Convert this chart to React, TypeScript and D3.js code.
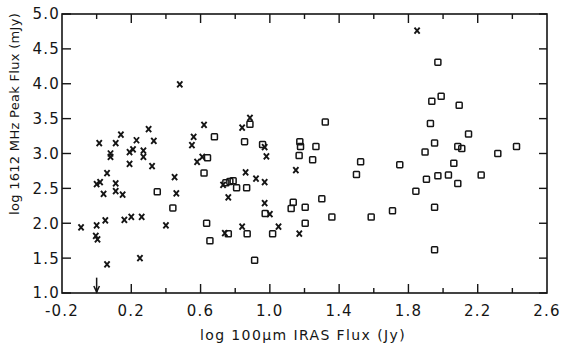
import React from "react";
import * as d3 from "d3";

const crossX = [0.48,0.62,0.30,0.14,0.23,0.33,0.015,0.11,0.56,0.55,0.08,0.08,0.19,0.21,0.27,0.27,0.19,0.32,0.61,0.58,0.06,0.0,0.02,0.11,0.11,0.04,0.15,0.45,0.46,0.73,0.76,-0.09,0.0,0.05,0.16,0.2,0.26,0.4,-0.005,0.005,0.74,0.06,0.25,0.885,0.84,0.97,0.98,1.15,0.86,0.92,0.97,0.97,1.0,0.84,1.05,1.17,1.85];
const crossY = [3.99,3.41,3.35,3.27,3.19,3.18,3.15,3.15,3.24,3.12,3.0,2.95,3.02,3.06,3.04,2.95,2.85,2.82,2.95,2.88,2.72,2.56,2.59,2.57,2.46,2.42,2.41,2.66,2.43,2.55,2.37,1.94,1.97,2.04,2.05,2.09,2.09,1.97,1.82,1.77,1.86,1.41,1.5,3.51,3.37,3.09,2.96,2.76,2.73,2.64,2.59,2.29,2.13,1.95,1.95,1.85,4.76];

const squareX = [0.68,0.64,0.62,0.35,0.44,0.635,0.654,0.746,0.769,0.788,0.76,0.885,1.32,0.854,0.958,1.173,1.177,1.266,1.169,1.247,1.524,1.5,0.808,0.866,1.135,1.123,1.204,1.3,0.973,1.358,1.585,1.204,0.869,1.016,0.912,1.97,1.989,1.935,2.093,1.927,2.147,1.951,2.085,2.108,2.424,1.896,2.316,1.75,2.062,1.904,1.97,2.031,2.085,2.22,1.843,1.708,1.951,1.951];
const squareY = [3.24,2.94,2.72,2.45,2.22,2.0,1.75,2.58,2.6,2.61,1.85,3.42,3.45,3.17,3.13,3.17,3.1,3.1,2.97,2.91,2.88,2.7,2.51,2.51,2.3,2.21,2.23,2.35,2.14,2.09,2.09,2.0,1.85,1.85,1.47,4.31,3.82,3.75,3.69,3.43,3.28,3.15,3.1,3.07,3.1,3.02,3.0,2.84,2.86,2.63,2.68,2.69,2.57,2.69,2.46,2.18,2.23,1.62];

const limitX = [0.0];
const limitY = [1.22];

const xTickLabels = ["-0.2","0.2","0.6","1.0","1.4","1.8","2.2","2.6"];
const yTickLabels = ["1.0","1.5","2.0","2.5","3.0","3.5","4.0","4.5","5.0"];

export default function App() {
  const x = d3.scaleLinear().domain([-0.2, 2.6]).range([62, 547]);
  const y = d3.scaleLinear().domain([1, 5]).range([293, 14]);
  const ink = "#151515";
  const xMinor = d3.range(0, 14).map((i) => -0.2 + i * 0.2).slice(1, 14);
  const font = "'DejaVu Sans', sans-serif";

  return (
    <svg width={570} height={349} style={{ position: "absolute", left: 0, top: 0, background: "#fff" }}>
      <rect x={0} y={0} width={570} height={349} fill="#fff" />
      <rect x={x(-0.2)} y={y(5)} width={x(2.6) - x(-0.2)} height={y(1) - y(5)} fill="none" stroke={ink} strokeWidth={1.6} />
      {xMinor.map((v, i) => {
        const long = i % 2 === 1;
        const len = long ? 9 : 5;
        const px = x(v);
        return (
          <g key={"xt" + i}>
            <line x1={px} x2={px} y1={y(1)} y2={y(1) - len} stroke={ink} strokeWidth={1.4} />
            <line x1={px} x2={px} y1={y(5)} y2={y(5) + len} stroke={ink} strokeWidth={1.4} />
          </g>
        );
      })}
      {yTickLabels.map((t, i) => {
        const py = y(+t);
        return (
          <g key={"yt" + i}>
            <line x1={x(-0.2)} x2={x(-0.2) + 9} y1={py} y2={py} stroke={ink} strokeWidth={1.4} />
            <line x1={x(2.6)} x2={x(2.6) - 8} y1={py} y2={py} stroke={ink} strokeWidth={1.4} />
            <text x={x(-0.2) - 2} y={py} dy="0.36em" textAnchor="end" fontFamily={font} fontSize={15} letterSpacing={1.2} fill={ink}>{t}</text>
          </g>
        );
      })}
      {xTickLabels.map((t, i) => (
        <text key={"xl" + i} x={x(+t)} y={316} textAnchor="middle" fontFamily={font} fontSize={15} letterSpacing={1.2} fill={ink}>{t}</text>
      ))}
      <text x={303} y={340} textAnchor="middle" fontFamily={font} fontSize={14} letterSpacing={1.4} fill={ink}>log 100μm IRAS Flux (Jy)</text>
      <text transform="translate(19,114) rotate(-90)" textAnchor="middle" fontFamily={font} fontSize={13} letterSpacing={0.3} fill={ink}>log 1612 MHz Peak Flux (mJy)</text>
      {crossX.map((v, i) => {
        const cx = x(v), cy = y(crossY[i]);
        return (
          <path key={"c" + i} d={`M${cx - 2.6},${cy - 3}L${cx + 2.6},${cy + 3}M${cx + 2.6},${cy - 3}L${cx - 2.6},${cy + 3}`} stroke={ink} strokeWidth={1.9} fill="none" />
        );
      })}
      {squareX.map((v, i) => {
        const cx = x(v), cy = y(squareY[i]);
        return <rect key={"s" + i} x={cx - 3} y={cy - 3} width={6} height={6} rx={0.8} fill="none" stroke={ink} strokeWidth={1.5} />;
      })}
      {limitX.map((v, i) => {
        const px = x(v), top = y(limitY[i]), bot = y(1) - 1;
        return (
          <g key={"a" + i}>
            <line x1={px} x2={px} y1={top} y2={bot} stroke={ink} strokeWidth={1.5} />
            <path d={`M${px - 2.8},${bot - 6}L${px},${bot}L${px + 2.8},${bot - 6}`} stroke={ink} strokeWidth={1.5} fill="none" />
          </g>
        );
      })}
    </svg>
  );
}
